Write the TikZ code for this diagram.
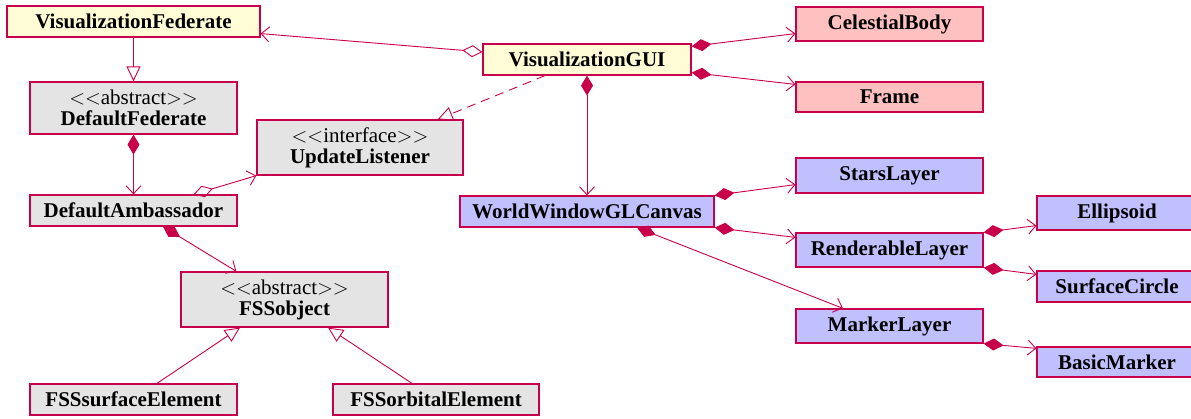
\documentclass[tikz,border=0pt]{standalone}
\usepackage{fontspec}
\setmainfont{Liberation Serif}
\usetikzlibrary{arrows.meta}

\definecolor{umlline}{RGB}{200,0,75}
\definecolor{guifill}{RGB}{255,252,214}
\definecolor{modelfill}{RGB}{255,192,192}
\definecolor{layerfill}{RGB}{192,192,255}
\definecolor{corefill}{RGB}{228,228,228}

\tikzset{
  cls/.style={draw=umlline, line width=1.2pt, inner sep=0pt, align=center,
    font=\fontsize{21}{21}\selectfont\bfseries, text=black},
  guicls/.style={cls, fill=guifill},
  modelcls/.style={cls, fill=modelfill},
  layercls/.style={cls, fill=layerfill},
  corecls/.style={cls, fill=corefill},
  link/.style={draw=umlline, line width=0.9pt},
  compose/.style={link, {Diamond[length=20pt,width=12pt]}-{Straight Barb[length=8pt,width=15pt]}},
  aggregate/.style={link, {Diamond[open,length=20pt,width=12pt]}-{Straight Barb[length=8pt,width=15pt]}},
  navigate/.style={link, -{Straight Barb[length=8pt,width=15pt]}},
  inherit/.style={link, -{Triangle[open,length=15pt,width=14pt]}},
  realize/.style={inherit, dash pattern=on 9pt off 6pt},
}
\newcommand{\stereo}[1]{{\mdseries$<<$#1$>>$}}

\begin{document}
\begin{tikzpicture}[x=1pt,y=-1pt]
\useasboundingbox (0,0) rectangle (1191,419);

% GUI and top-level federate
\node[guicls, minimum width=253pt, minimum height=31pt] (vf) at (133.5,21.5) {VisualizationFederate};
\node[guicls, minimum width=208pt, minimum height=31pt] (gui) at (587,59.5) {VisualizationGUI};

% model classes
\node[modelcls, minimum width=187pt, minimum height=34pt] (cb) at (889.5,24) {CelestialBody};
\node[modelcls, minimum width=187pt, minimum height=30pt] (frame) at (889.5,97) {Frame};

% federate core classes
\node[corecls, minimum width=207pt, minimum height=52pt] (df) at (133.5,108) {\stereo{abstract}\\DefaultFederate};
\node[corecls, minimum width=206pt, minimum height=55pt] (ul) at (360,147.5) {\stereo{interface}\\UpdateListener};
\node[corecls, minimum width=207pt, minimum height=31pt] (da) at (133.5,210.5) {DefaultAmbassador};
\node[corecls, minimum width=207pt, minimum height=55pt] (fso) at (284.5,299.5) {\stereo{abstract}\\FSSobject};
\node[corecls, minimum width=207pt, minimum height=31pt] (fss) at (133.5,399.5) {FSSsurfaceElement};
\node[corecls, minimum width=206pt, minimum height=31pt] (fsorb) at (436,399.5) {FSSorbitalElement};

% WorldWind layers
\node[layercls, minimum width=254pt, minimum height=31pt] (wwc) at (587,211.5) {WorldWindowGLCanvas};
\node[layercls, minimum width=187pt, minimum height=35pt] (stars) at (889.5,175.5) {StarsLayer};
\node[layercls, minimum width=187pt, minimum height=34pt] (rl) at (889.5,250) {RenderableLayer};
\node[layercls, minimum width=187pt, minimum height=34pt] (ml) at (889.5,326) {MarkerLayer};
\node[layercls, minimum width=160pt, minimum height=34pt] (ell) at (1117,213) {Ellipsoid};
\node[layercls, minimum width=160pt, minimum height=31pt] (sc) at (1117,286.5) {SurfaceCircle};
\node[layercls, minimum width=160pt, minimum height=30pt] (bm) at (1117,362) {BasicMarker};

% relations
\draw[aggregate] ([yshift=7.5pt]gui.west) -- ([yshift=4pt]vf.south east);
\draw[inherit] (vf.south) -- (df.north);
\draw[compose] (df.south) -- (da.north);
\draw[aggregate] ([xshift=-44pt]da.north east) -- (ul.south west);
\draw[realize] ([xshift=-42pt]gui.south) -- ([xshift=-26pt]ul.north east);
\draw[compose] ([xshift=29.5pt]da.south) -- ([xshift=56pt]fso.north west);
\draw[inherit] ([xshift=23.5pt]fss.north) -- ([xshift=-44.5pt]fso.south);
\draw[inherit] ([xshift=-24pt]fsorb.north) -- ([xshift=43.5pt]fso.south);

\draw[compose] ([yshift=-3pt]gui.north east) -- ([yshift=8pt]cb.south west);
\draw[compose] ([yshift=3pt]gui.south east) -- ([yshift=-3pt]frame.north west);
\draw[compose] (gui.south) -- (wwc.north);

\draw[compose] (wwc.north east) -- ([yshift=9pt]stars.south west);
\draw[compose] (wwc.south east) -- ([yshift=-5pt]rl.north west);
\draw[compose] ([xshift=50pt]wwc.south) -- ([xshift=-46.5pt]ml.north);

\draw[compose] (rl.north east) -- ([yshift=5pt]ell.south west);
\draw[compose] (rl.south east) -- ([yshift=-4pt]sc.north west);
\draw[compose] (ml.south east) -- ([yshift=-2pt]bm.north west);
\end{tikzpicture}
\end{document}
